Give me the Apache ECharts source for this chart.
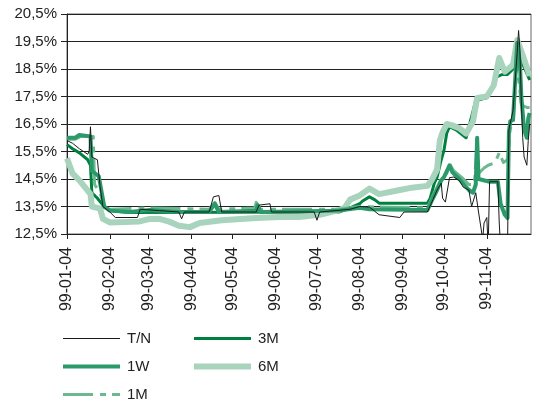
<!DOCTYPE html>
<html>
<head>
<meta charset="utf-8">
<script src="https://cdn.jsdelivr.net/npm/echarts@6/dist/echarts.min.js"></script>
<style>
html, body { margin: 0; padding: 0; background: #fff; }
#chart { width: 534px; height: 400px; }
</style>
</head>
<body>
<div id="chart"></div>
<script>
// x tick labels (4th of each month) and y ticks
var xTickDates = ['1999-01-04', '1999-02-04', '1999-03-04', '1999-04-04', '1999-05-04', '1999-06-04',
    '1999-07-04', '1999-08-04', '1999-09-04', '1999-10-04', '1999-11-04'];
var yTicks = [12.5, 13.5, 14.5, 15.5, 16.5, 17.5, 18.5, 19.5, 20.5];

// rates, %
var tnData = [
    ['1999-01-04', 15.9], ['1999-01-08', 15.8], ['1999-01-13', 15.6], ['1999-01-19', 15.4], ['1999-01-20', 15.5],
    ['1999-01-21', 16.4], ['1999-01-22', 15.3], ['1999-01-26', 15.2], ['1999-01-28', 14.2], ['1999-01-30', 13.5],
    ['1999-02-04', 13.3], ['1999-02-08', 13.1], ['1999-02-24', 13.1], ['1999-02-26', 13.4], ['1999-03-12', 13.35],
    ['1999-03-26', 13.3], ['1999-03-28', 13.05], ['1999-03-30', 13.3], ['1999-04-17', 13.3], ['1999-04-20', 13.85],
    ['1999-04-24', 13.9], ['1999-04-26', 13.3], ['1999-05-21', 13.3], ['1999-05-23', 13.55], ['1999-05-31', 13.6],
    ['1999-06-01', 13.3], ['1999-07-02', 13.3], ['1999-07-04', 13.0], ['1999-07-06', 13.3], ['1999-07-28', 13.4],
    ['1999-08-04', 13.5], ['1999-08-11', 13.48], ['1999-08-18', 13.2], ['1999-09-02', 13.1], ['1999-09-05', 13.3],
    ['1999-09-22', 13.3], ['1999-09-26', 13.75], ['1999-09-29', 14.1], ['1999-10-02', 14.35], ['1999-10-03', 13.8],
    ['1999-10-05', 13.66], ['1999-10-08', 14.55], ['1999-10-11', 14.57], ['1999-10-15', 14.45], ['1999-10-18', 14.2],
    ['1999-10-22', 14.1], ['1999-10-24', 13.5], ['1999-10-27', 14.0], ['1999-10-29', 13.3], ['1999-10-31', 12.65],
    ['1999-11-01', 12.3], ['1999-11-02', 12.9], ['1999-11-04', 13.1], ['1999-11-05', 12.0], ['1999-11-06', 14.4],
    ['1999-11-12', 14.4], ['1999-11-13', 12.9], ['1999-11-14', 12.0], ['1999-11-19', 12.0], ['1999-11-20', 16.3],
    ['1999-11-23', 17.0], ['1999-11-26', 19.1], ['1999-11-27', 19.9], ['1999-11-28', 19.2], ['1999-11-29', 17.3],
    ['1999-11-30', 16.0], ['1999-12-01', 15.3], ['1999-12-03', 15.0], ['1999-12-04', 15.9], ['1999-12-05', 16.5]
];
var w1Data = [
    ['1999-01-04', 16.0], ['1999-01-10', 16.0], ['1999-01-13', 16.1], ['1999-01-21', 16.05], ['1999-01-22', 14.8],
    ['1999-01-27', 14.6], ['1999-01-31', 13.5], ['1999-02-04', 13.35], ['1999-02-18', 13.3], ['1999-03-05', 13.37],
    ['1999-03-26', 13.3], ['1999-04-17', 13.3], ['1999-04-21', 13.6], ['1999-04-24', 13.3], ['1999-05-21', 13.35],
    ['1999-05-22', 13.55], ['1999-05-24', 13.3], ['1999-07-20', 13.35], ['1999-08-04', 13.45], ['1999-08-11', 13.4],
    ['1999-09-22', 13.37], ['1999-09-26', 13.8], ['1999-09-29', 14.1], ['1999-10-02', 14.45], ['1999-10-04', 14.57],
    ['1999-10-08', 15.0], ['1999-10-10', 14.75], ['1999-10-15', 14.5], ['1999-10-22', 14.1], ['1999-10-25', 14.0],
    ['1999-10-27', 14.3], ['1999-10-28', 16.0], ['1999-10-29', 14.5], ['1999-11-06', 14.4], ['1999-11-12', 14.4],
    ['1999-11-14', 13.6], ['1999-11-17', 13.2], ['1999-11-19', 13.08], ['1999-11-20', 16.2], ['1999-11-21', 16.6],
    ['1999-11-23', 16.65], ['1999-11-26', 19.45], ['1999-11-28', 18.7], ['1999-11-29', 17.5], ['1999-12-01', 16.3],
    ['1999-12-03', 16.0], ['1999-12-04', 16.7], ['1999-12-05', 16.9]
];
var m1Data = [
    ['1999-01-04', 15.95], ['1999-01-10', 15.95], ['1999-01-14', 16.05], ['1999-01-23', 16.05], ['1999-01-24', 14.3],
    ['1999-01-28', 14.0], ['1999-01-31', 13.45], ['1999-02-04', 13.4], ['1999-03-05', 13.45], ['1999-04-17', 13.4],
    ['1999-04-21', 13.65], ['1999-04-24', 13.4], ['1999-05-20', 13.45], ['1999-05-21', 13.65], ['1999-05-24', 13.4],
    ['1999-07-20', 13.4], ['1999-08-04', 13.5], ['1999-09-22', 13.45], ['1999-09-26', 13.9], ['1999-09-29', 14.2],
    ['1999-10-02', 14.5], ['1999-10-06', 14.7], ['1999-10-08', 15.05], ['1999-10-11', 14.8], ['1999-10-17', 14.55],
    ['1999-10-22', 14.3], ['1999-10-26', 14.3], ['1999-10-28', 15.9], ['1999-10-29', 14.7], ['1999-11-02', 14.9],
    ['1999-11-05', 15.0], ['1999-11-10', 15.1], ['1999-11-13', 15.45], ['1999-11-16', 15.1], ['1999-11-19', 15.2],
    ['1999-11-21', 16.35], ['1999-11-23', 16.5], ['1999-11-26', 18.95], ['1999-11-27', 18.2], ['1999-11-29', 17.2],
    ['1999-12-03', 17.1], ['1999-12-05', 17.1]
];
var m3Data = [
    ['1999-01-04', 15.75], ['1999-01-08', 15.6], ['1999-01-13', 15.45], ['1999-01-19', 15.2], ['1999-01-21', 15.0],
    ['1999-01-22', 14.0], ['1999-01-26', 13.8], ['1999-01-30', 13.55], ['1999-02-04', 13.35], ['1999-02-18', 13.28],
    ['1999-07-20', 13.3], ['1999-07-28', 13.45], ['1999-08-04', 13.6], ['1999-08-06', 13.7], ['1999-08-11', 13.85],
    ['1999-08-15', 13.74], ['1999-08-18', 13.62], ['1999-09-22', 13.62], ['1999-09-24', 13.8], ['1999-09-27', 14.35],
    ['1999-09-29', 14.57], ['1999-10-02', 15.2], ['1999-10-04', 15.55], ['1999-10-06', 16.17], ['1999-10-08', 16.4],
    ['1999-10-13', 16.28], ['1999-10-20', 16.0], ['1999-10-27', 17.35], ['1999-11-04', 17.45], ['1999-11-11', 18.2],
    ['1999-11-15', 18.3], ['1999-11-19', 18.3], ['1999-11-23', 18.5], ['1999-11-26', 19.4], ['1999-11-29', 18.8],
    ['1999-12-05', 18.1]
];
var m6Data = [
    ['1999-01-04', 15.25], ['1999-01-08', 14.7], ['1999-01-13', 14.45], ['1999-01-21', 13.95], ['1999-01-22', 13.5],
    ['1999-01-28', 13.42], ['1999-01-30', 13.05], ['1999-02-04', 12.92], ['1999-02-25', 12.95], ['1999-03-05', 13.05],
    ['1999-03-12', 13.05], ['1999-03-19', 12.95], ['1999-03-26', 12.8], ['1999-04-03', 12.75], ['1999-04-10', 12.9],
    ['1999-04-26', 13.0], ['1999-05-21', 13.08], ['1999-06-07', 13.12], ['1999-06-21', 13.12], ['1999-07-06', 13.2],
    ['1999-07-20', 13.37], ['1999-07-24', 13.45], ['1999-07-28', 13.75], ['1999-08-04', 13.9], ['1999-08-11', 14.15],
    ['1999-08-18', 13.95], ['1999-09-02', 14.1], ['1999-09-09', 14.17], ['1999-09-22', 14.25], ['1999-09-25', 14.45],
    ['1999-09-29', 14.85], ['1999-10-01', 15.9], ['1999-10-03', 16.2], ['1999-10-06', 16.5], ['1999-10-10', 16.45],
    ['1999-10-15', 16.35], ['1999-10-20', 16.15], ['1999-10-25', 16.6], ['1999-10-28', 17.45], ['1999-11-04', 17.5],
    ['1999-11-09', 17.9], ['1999-11-13', 18.9], ['1999-11-17', 18.4], ['1999-11-23', 18.65], ['1999-11-26', 19.55],
    ['1999-11-30', 19.0], ['1999-12-05', 18.25]
];

var fontFamily = '"Liberation Sans", Arial, sans-serif';
var chartDom = document.getElementById('chart');
var myChart = echarts.init(chartDom, null, { renderer: 'canvas' });

// dates -> timestamps for a plain value axis
function toTime(d) { return echarts.time.parse(d).getTime(); }
var xTicks = xTickDates.map(toTime);

function lineSeries(name, data, color, width, type, z) {
    return {
        name: name,
        type: 'line',
        data: data.map(function (p) { return [toTime(p[0]), p[1]]; }),
        symbol: 'none',
        z: z,
        lineStyle: { color: color, width: width, type: type, join: 'round' },
        itemStyle: { color: color },
        animation: false
    };
}

var legendText = { fontFamily: fontFamily, fontSize: 15, lineHeight: 14, color: '#222', padding: [0, 0, 0, 2] };

var option = {
    animation: false,
    textStyle: { fontFamily: fontFamily },
    grid: {
        left: 67, right: 3, top: 14, bottom: 166,
        show: true, borderColor: '#666', borderWidth: 1
    },
    xAxis: {
        type: 'value',
        min: toTime('1999-01-04'),
        max: toTime('1999-12-06'),
        axisLine: { lineStyle: { color: '#222', width: 1 } },
        axisTick: { show: true, length: 5, customValues: xTicks, lineStyle: { color: '#222' } },
        axisLabel: {
            customValues: xTicks,
            rotate: 90,
            margin: 13,
            fontSize: 16,
            color: '#222',
            hideOverlap: false,
            showMinLabel: true,
            showMaxLabel: true,
            formatter: function (v) { return echarts.time.format(v, '{yy}-{MM}-{dd}', false); }
        },
        splitLine: { show: false }
    },
    yAxis: {
        type: 'value',
        min: 12.5,
        max: 20.5,
        axisLine: { show: true, lineStyle: { color: '#222', width: 1 } },
        axisTick: { show: true, length: 6, customValues: yTicks, lineStyle: { color: '#222' } },
        axisLabel: {
            customValues: yTicks,
            margin: 10,
            fontSize: 15,
            color: '#222',
            formatter: function (v) { return v.toFixed(1).replace('.', ',') + '%'; }
        },
        splitLine: { show: true, lineStyle: { color: '#222', width: 1 } }
    },
    legend: [
        {
            orient: 'vertical', left: 61, top: 331, height: 90, padding: 0,
            itemWidth: 57, itemHeight: 14, itemGap: 13,
            itemStyle: { opacity: 0 },
            textStyle: legendText,
            selectedMode: false,
            data: [
                { name: 'T/N', lineStyle: { width: 1 } },
                { name: '1W', lineStyle: { width: 4 } },
                { name: '1M', lineStyle: { width: 3 } }
            ]
        },
        {
            orient: 'vertical', left: 191, top: 331, height: 90, padding: 0,
            itemWidth: 57, itemHeight: 14, itemGap: 13,
            itemStyle: { opacity: 0 },
            textStyle: legendText,
            selectedMode: false,
            data: [
                { name: '3M', lineStyle: { width: 3 } },
                { name: '6M', lineStyle: { width: 6 } }
            ]
        }
    ],
    series: [
        lineSeries('3M', m3Data, '#00803f', 3, 'solid', 2),
        lineSeries('6M', m6Data, '#a8d3bc', 6, 'solid', 3),
        lineSeries('1M', m1Data, '#6cb991', 3, [30, 7, 6, 6], 4),
        lineSeries('1W', w1Data, '#2b9a6b', 4, 'solid', 5),
        lineSeries('T/N', tnData, '#1a1a1a', 1, 'solid', 6)
    ]
};

myChart.setOption(option);
</script>
</body>
</html>
